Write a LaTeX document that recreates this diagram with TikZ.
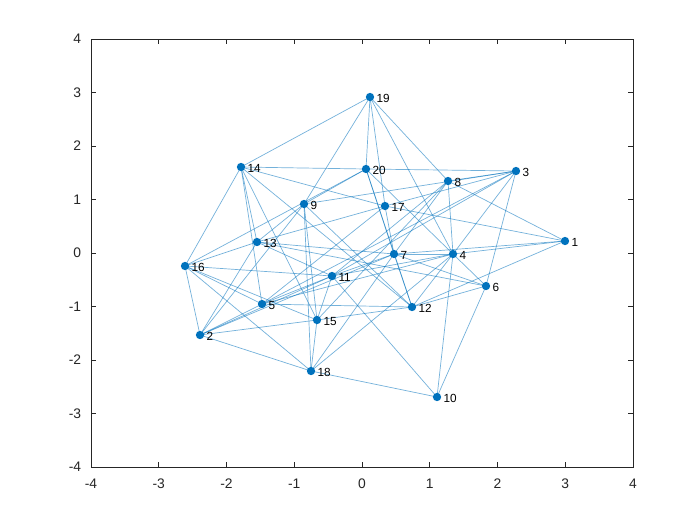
\documentclass[tikz,border=0pt]{standalone}
\usepackage{fontspec}
\setmainfont{Liberation Sans}
\definecolor{mblue}{RGB}{0,114,189}
\definecolor{axgray}{RGB}{38,38,38}
\begin{document}
\begin{tikzpicture}[x=0.01in,y=-0.01in,
  vtx/.style={circle,fill=mblue,inner sep=0pt,minimum size=6pt},
  lbl/.style={font=\fontsize{8.5}{10}\selectfont,anchor=west,inner sep=0pt,xshift=4.5pt,yshift=-1pt},
  edge/.style={draw=mblue,draw opacity=0.55,line width=0.5pt},
  tick/.style={font=\fontsize{10}{12}\selectfont,text=axgray}]
\useasboundingbox[fill=white] (0,0) rectangle (700,525);
% axes
\draw[axgray,line width=0.5pt] (91,39) rectangle (633,467);
\foreach \i/\l in {0/-4,1/-3,2/-2,3/-1,4/0,5/1,6/2,7/3,8/4}{
  \pgfmathsetmacro{\xx}{91+\i*67.75}
  \pgfmathsetmacro{\yy}{467-\i*53.5}
  \draw[axgray,line width=0.5pt] (\xx,467) -- (\xx,462);
  \draw[axgray,line width=0.5pt] (\xx,39) -- (\xx,44);
  \draw[axgray,line width=0.5pt] (91,\yy) -- (96,\yy);
  \draw[axgray,line width=0.5pt] (633,\yy) -- (628,\yy);
  \node[tick,anchor=north] at (\xx,474) {\l};
  \node[tick,anchor=east] at (86,\yy) {\l};
}
% vertices
\foreach \n/\x/\y in {1/565/241,2/200/335,3/516/171,4/453/254,5/262/304,6/486/286,7/394/254,8/448/181,9/304/204,10/437/397,11/332/276,12/412/307,13/257/242,14/241/167,15/317/320,16/185/266,17/385/206,18/311/371,19/370/97,20/366/169}{
  \coordinate (n\n) at (\x,\y);
}
\foreach \a/\b in {19/14,19/9,19/20,19/17,19/8,19/4,
  14/20,20/3,14/16,14/13,14/5,14/15,14/17,14/12,
  20/9,16/20,20/7,20/4,20/12,
  3/8,3/17,3/9,3/4,3/6,3/11,3/5,
  8/4,8/1,8/7,8/11,8/15,
  9/13,9/2,9/15,9/18,9/12,7/6,
  17/1,17/7,17/13,17/5,
  13/16,13/7,13/6,13/2,13/11,
  16/2,16/11,16/5,16/15,16/18,
  7/4,7/1,7/12,7/11,7/2,7/18,
  4/1,4/6,4/12,4/10,4/18,4/11,4/5,
  6/12,6/10,1/12,
  11/5,11/15,11/2,11/10,
  5/12,5/2,
  15/12,15/2,15/18,
  2/18,18/10}{
  \path[edge] (n\a) -- (n\b);
}
\foreach \n in {1,...,20}{
  \node[vtx] (v\n) at (n\n) {};
  \node[lbl] (t\n) at (n\n) {\n};
}
\end{tikzpicture}
\end{document}
